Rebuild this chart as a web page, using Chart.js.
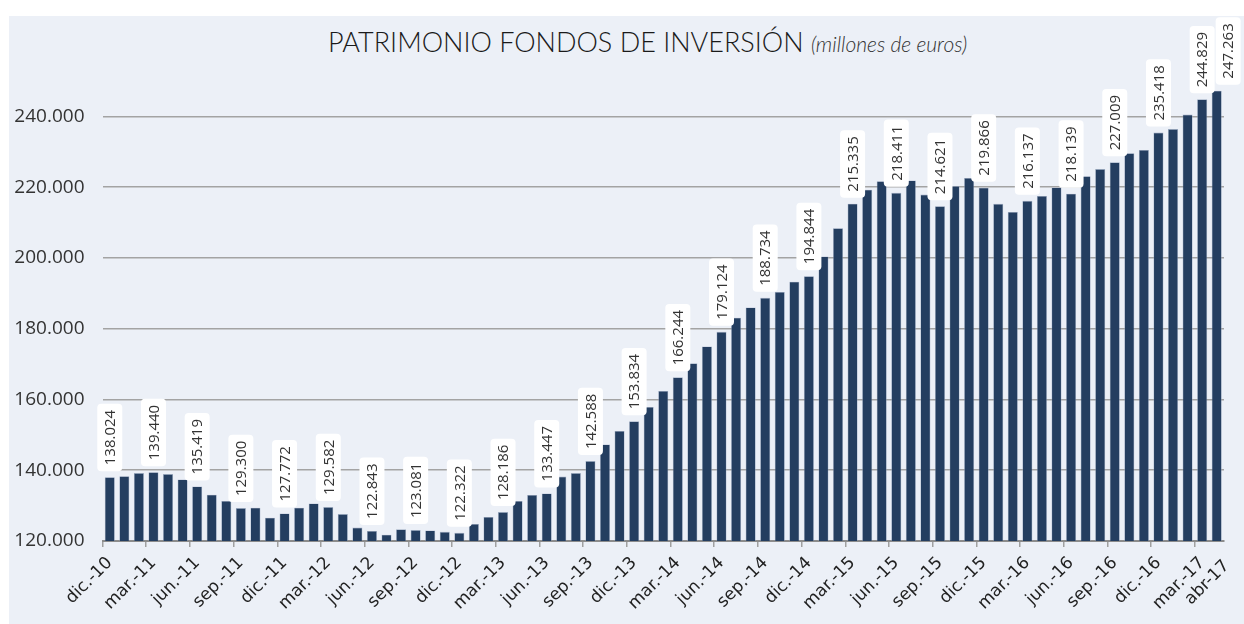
<!DOCTYPE html>
<html>
<head>
<meta charset="utf-8">
<script src="https://cdn.jsdelivr.net/npm/chart.js@4.4.1/dist/chart.umd.min.js"></script>
<style>
  html, body { margin: 0; padding: 0; background: #ffffff; }
  #wrap { position: relative; width: 1244px; height: 624px; overflow: hidden; }
  #panel { position: absolute; left: 9px; top: 16px; width: 1235px; height: 608px; background: #ecf0f7; }
  #title { position: absolute; left: 328px; top: 27px; white-space: nowrap; color: #1a1a1a;
           font-family: 'Lato', 'Liberation Sans', sans-serif; font-weight: 300; font-size: 27px; line-height: 30px; }
  #title em { font-size: 21px; color: #333; }
  #box { position: absolute; left: 0; top: 0; width: 1244px; height: 624px; }
</style>
</head>
<body>
<div id="wrap">
  <div id="panel"></div>
  <div id="title">PATRIMONIO FONDOS DE INVERSIÓN <em>(millones de euros)</em></div>
  <div id="box"><canvas id="chart"></canvas></div>
</div>
<script>
// Month labels, dic-10 .. abr-17
const months = [
    'dic.-10',
    'ene.-11', 'feb.-11', 'mar.-11', 'abr.-11', 'may.-11', 'jun.-11', 'jul.-11', 'ago.-11', 'sep.-11', 'oct.-11', 'nov.-11', 'dic.-11',
    'ene.-12', 'feb.-12', 'mar.-12', 'abr.-12', 'may.-12', 'jun.-12', 'jul.-12', 'ago.-12', 'sep.-12', 'oct.-12', 'nov.-12', 'dic.-12',
    'ene.-13', 'feb.-13', 'mar.-13', 'abr.-13', 'may.-13', 'jun.-13', 'jul.-13', 'ago.-13', 'sep.-13', 'oct.-13', 'nov.-13', 'dic.-13',
    'ene.-14', 'feb.-14', 'mar.-14', 'abr.-14', 'may.-14', 'jun.-14', 'jul.-14', 'ago.-14', 'sep.-14', 'oct.-14', 'nov.-14', 'dic.-14',
    'ene.-15', 'feb.-15', 'mar.-15', 'abr.-15', 'may.-15', 'jun.-15', 'jul.-15', 'ago.-15', 'sep.-15', 'oct.-15', 'nov.-15', 'dic.-15',
    'ene.-16', 'feb.-16', 'mar.-16', 'abr.-16', 'may.-16', 'jun.-16', 'jul.-16', 'ago.-16', 'sep.-16', 'oct.-16', 'nov.-16', 'dic.-16',
    'ene.-17', 'feb.-17', 'mar.-17', 'abr-17'
];

// Patrimonio (millones de euros)
const patrimonio = [
    138024,
    138300, 139200, 139440, 138900, 137400, 135419, 133100, 131300, 129300, 129400, 126600, 127772,
    129400, 130600, 129582, 127600, 123800, 122843, 121800, 123300, 123081, 123000, 122600, 122322,
    124800, 126800, 128186, 131300, 133000, 133447, 138200, 139200, 142588, 147300, 151100, 153834,
    157900, 162400, 166244, 170200, 175000, 179124, 183100, 186000, 188734, 190400, 193300, 194844,
    200400, 208400, 215335, 219300, 221700, 218411, 221900, 217900, 214621, 220300, 222600, 219866,
    215300, 213000, 216137, 217500, 219900, 218139, 223100, 225100, 227009, 229600, 230500, 235418,
    236400, 240500, 244829, 247263
];

const yTicks = [120000, 140000, 160000, 180000, 200000, 220000, 240000];

function fmt(v) {
    return String(v).replace(/\B(?=(\d{3})+(?!\d))/g, '.');
}

// every third month is labelled, plus the last one
function isShown(i) {
    return i % 3 === 0 || i === months.length - 1;
}

// white boxes with vertical value labels above the bars
const valueLabels = {
    id: 'valueLabels',
    beforeDraw(chart) {
        // the last month label sits right next to the previous one, nudge it aside
        const items = chart.scales.x.getLabelItems();
        const last = items[items.length - 1];
        if (last && !last.nudged) {
            last.options.translation[0] += 10;
            last.options.translation[1] += 3;
            last.nudged = true;
        }
    },
    afterDatasetsDraw(chart) {
        const ctx = chart.ctx;
        const bars = chart.getDatasetMeta(0).data;
        let prevRight = -Infinity;
        ctx.save();
        ctx.font = "15px 'Open Sans', sans-serif";
        bars.forEach((bar, i) => {
            if (!isShown(i)) return;
            const text = fmt(patrimonio[i]);
            const tw = ctx.measureText(text).width;
            const w = 25, h = tw + 12;
            // push a label sideways if it would sit on the previous one
            const cx = Math.max(bar.x, prevRight + 1 + w / 2);
            prevRight = cx + w / 2;
            const bottom = bar.y - 6;
            ctx.fillStyle = '#ffffff';
            ctx.beginPath();
            ctx.roundRect(cx - w / 2, bottom - h, w, h, 4);
            ctx.fill();
            ctx.translate(cx, bottom - h / 2);
            ctx.rotate(-Math.PI / 2);
            ctx.fillStyle = '#333333';
            ctx.textAlign = 'center';
            ctx.textBaseline = 'middle';
            ctx.fillText(text, 0, 1);
            ctx.setTransform(1, 0, 0, 1, 0, 0);
        });
        ctx.restore();
    }
};

new Chart(document.getElementById('chart'), {
    type: 'bar',
    data: {
        labels: months,
        datasets: [{
            data: patrimonio,
            backgroundColor: '#243e60',
            borderColor: 'rgba(150,165,190,0.9)',
            borderWidth: 0.6,
            categoryPercentage: 1,
            barPercentage: 0.69
        }]
    },
    options: {
        responsive: true,
        maintainAspectRatio: false,
        animation: false,
        layout: { padding: { left: 0, right: 20, top: 81, bottom: 0 } },
        plugins: {
            legend: { display: false },
            tooltip: { enabled: false }
        },
        scales: {
            x: {
                afterFit: s => { s.height = 83; },
                border: { display: true, color: '#8c8c8c', width: 2 },
                grid: {
                    drawOnChartArea: false,
                    tickLength: 6,
                    lineWidth: 1.5,
                    color: c => (c.index % 3 === 0 ? '#a0a0a0' : 'rgba(0,0,0,0)')
                },
                ticks: {
                    autoSkip: false,
                    minRotation: 45,
                    maxRotation: 45,
                    padding: 6,
                    color: '#222222',
                    font: { family: "'DejaVu Sans', sans-serif", size: 17 },
                    callback: (v, i) => (isShown(i) ? months[i] : '')
                }
            },
            y: {
                min: 120000,
                max: 250000,
                afterFit: s => { s.width = 102.5; },
                afterBuildTicks: s => { s.ticks = yTicks.map(v => ({ value: v })); },
                border: { display: false },
                grid: { color: '#a3a3a3', lineWidth: 1.5, drawTicks: false },
                ticks: {
                    padding: 18,
                    color: '#333333',
                    font: { family: "'Open Sans', sans-serif", size: 19 },
                    callback: v => fmt(v)
                }
            }
        }
    },
    plugins: [valueLabels]
});
</script>
</body>
</html>
